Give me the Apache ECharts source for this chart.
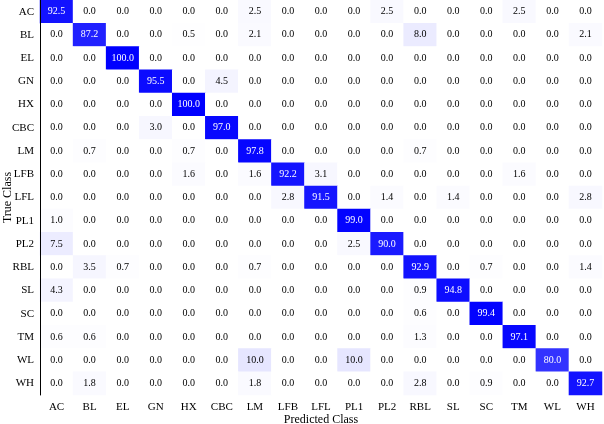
<!DOCTYPE html>
<html>
<head>
<meta charset="utf-8">
<script src="https://cdn.jsdelivr.net/npm/echarts@6/dist/echarts.min.js"></script>
<style>
  html, body { margin: 0; padding: 0; background: #fff; }
  #chart { width: 604px; height: 424px; }
</style>
</head>
<body>
<div id="chart"></div>
<script>
// class names (predicted = columns, true = rows)
var classes = ["AC", "BL", "EL", "GN", "HX", "CBC", "LM", "LFB", "LFL", "PL1", "PL2", "RBL", "SL", "SC", "TM", "WL", "WH"];

// confusion matrix rows, percentages
var rowAC  = [92.5, 0, 0, 0, 0, 0, 2.5, 0, 0, 0, 2.5, 0, 0, 0, 2.5, 0, 0];
var rowBL  = [0, 87.2, 0, 0, 0.5, 0, 2.1, 0, 0, 0, 0, 8.0, 0, 0, 0, 0, 2.1];
var rowEL  = [0, 0, 100.0, 0, 0, 0, 0, 0, 0, 0, 0, 0, 0, 0, 0, 0, 0];
var rowGN  = [0, 0, 0, 95.5, 0, 4.5, 0, 0, 0, 0, 0, 0, 0, 0, 0, 0, 0];
var rowHX  = [0, 0, 0, 0, 100.0, 0, 0, 0, 0, 0, 0, 0, 0, 0, 0, 0, 0];
var rowCBC = [0, 0, 0, 3.0, 0, 97.0, 0, 0, 0, 0, 0, 0, 0, 0, 0, 0, 0];
var rowLM  = [0, 0.7, 0, 0, 0.7, 0, 97.8, 0, 0, 0, 0, 0.7, 0, 0, 0, 0, 0];
var rowLFB = [0, 0, 0, 0, 1.6, 0, 1.6, 92.2, 3.1, 0, 0, 0, 0, 0, 1.6, 0, 0];
var rowLFL = [0, 0, 0, 0, 0, 0, 0, 2.8, 91.5, 0, 1.4, 0, 1.4, 0, 0, 0, 2.8];
var rowPL1 = [1.0, 0, 0, 0, 0, 0, 0, 0, 0, 99.0, 0, 0, 0, 0, 0, 0, 0];
var rowPL2 = [7.5, 0, 0, 0, 0, 0, 0, 0, 0, 2.5, 90.0, 0, 0, 0, 0, 0, 0];
var rowRBL = [0, 3.5, 0.7, 0, 0, 0, 0.7, 0, 0, 0, 0, 92.9, 0, 0.7, 0, 0, 1.4];
var rowSL  = [4.3, 0, 0, 0, 0, 0, 0, 0, 0, 0, 0, 0.9, 94.8, 0, 0, 0, 0];
var rowSC  = [0, 0, 0, 0, 0, 0, 0, 0, 0, 0, 0, 0.6, 0, 99.4, 0, 0, 0];
var rowTM  = [0.6, 0.6, 0, 0, 0, 0, 0, 0, 0, 0, 0, 1.3, 0, 0, 97.1, 0, 0];
var rowWL  = [0, 0, 0, 0, 0, 0, 10.0, 0, 0, 10.0, 0, 0, 0, 0, 0, 80.0, 0];
var rowWH  = [0, 1.8, 0, 0, 0, 0, 1.8, 0, 0, 0, 0, 2.8, 0, 0.9, 0, 0, 92.7];

var matrix = [rowAC, rowBL, rowEL, rowGN, rowHX, rowCBC, rowLM, rowLFB, rowLFL,
              rowPL1, rowPL2, rowRBL, rowSL, rowSC, rowTM, rowWL, rowWH];

var fontName = "Liberation Serif";

var cells = [];
matrix.forEach(function (row, y) {
  row.forEach(function (v, x) {
    cells.push({
      value: [x, y, v],
      label: { color: v > 50 ? "#fff" : "#000" }
    });
  });
});

var chart = echarts.init(document.getElementById("chart"));

var option = {
  backgroundColor: "#fff",
  animation: false,
  grid: {
    left: 40,
    right: 2,
    top: 0,
    bottom: 29,
    outerBoundsMode: "none",
    containLabel: false
  },
  xAxis: {
    type: "category",
    data: classes,
    name: "Predicted Class",
    nameLocation: "middle",
    nameGap: 19,
    nameMoveOverlap: false,
    nameTextStyle: { fontFamily: fontName, fontSize: 12, color: "#000" },
    axisLine: { show: false },
    axisTick: { show: false },
    splitArea: { show: false },
    axisLabel: { fontFamily: fontName, fontSize: 11, color: "#000", margin: 7 }
  },
  yAxis: {
    type: "category",
    data: classes,
    inverse: true,
    name: "True Class",
    nameLocation: "middle",
    nameGap: 26,
    nameMoveOverlap: false,
    nameTextStyle: { fontFamily: fontName, fontSize: 12, color: "#000" },
    axisLine: { show: true, onZero: false, lineStyle: { color: "#000", width: 1 } },
    axisTick: { show: false },
    axisLabel: { fontFamily: fontName, fontSize: 11, color: "#000", margin: 6 },
    z: 10
  },
  visualMap: {
    show: false,
    min: 0,
    max: 100,
    dimension: 2,
    inRange: { color: ["#ffffff", "#0000ff"] }
  },
  series: [
    {
      type: "heatmap",
      data: cells,
      label: {
        show: true,
        fontFamily: fontName,
        fontSize: 10,
        formatter: function (p) {
          return p.value[2].toFixed(1);
        }
      },
      itemStyle: { borderWidth: 0 }
    }
  ]
};

chart.setOption(option);
</script>
</body>
</html>
